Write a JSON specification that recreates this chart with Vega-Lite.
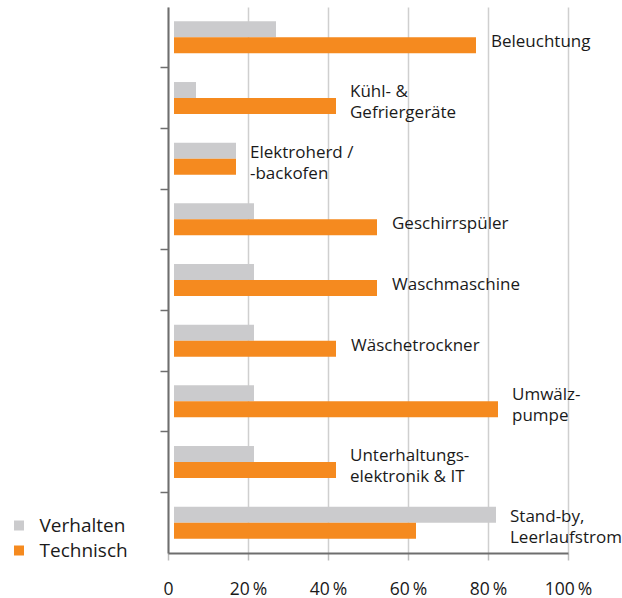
{
  "$schema": "https://vega.github.io/schema/vega-lite/v6.json",
  "width": 400,
  "height": 546,
  "autosize": "none",
  "padding": {"left": 168, "top": 7, "right": 54, "bottom": 45},
  "background": "white",
  "config": {"font": "Open Sans", "view": {"stroke": null}},
  "data": {
    "values": [
      {"cat": "Beleuchtung", "label": "Beleuchtung", "series": "Verhalten", "value": 27},
      {"cat": "Beleuchtung", "label": "Beleuchtung", "series": "Technisch", "value": 77},
      {"cat": "Kühl- & Gefriergeräte", "label": "Kühl- &\nGefriergeräte", "series": "Verhalten", "value": 7},
      {"cat": "Kühl- & Gefriergeräte", "label": "Kühl- &\nGefriergeräte", "series": "Technisch", "value": 42},
      {"cat": "Elektroherd/-backofen", "label": "Elektroherd /\n-backofen", "series": "Verhalten", "value": 17},
      {"cat": "Elektroherd/-backofen", "label": "Elektroherd /\n-backofen", "series": "Technisch", "value": 17},
      {"cat": "Geschirrspüler", "label": "Geschirrspüler", "series": "Verhalten", "value": 21.5},
      {"cat": "Geschirrspüler", "label": "Geschirrspüler", "series": "Technisch", "value": 52.25},
      {"cat": "Waschmaschine", "label": "Waschmaschine", "series": "Verhalten", "value": 21.5},
      {"cat": "Waschmaschine", "label": "Waschmaschine", "series": "Technisch", "value": 52.25},
      {"cat": "Wäschetrockner", "label": "Wäschetrockner", "series": "Verhalten", "value": 21.5},
      {"cat": "Wäschetrockner", "label": "Wäschetrockner", "series": "Technisch", "value": 42},
      {"cat": "Umwälzpumpe", "label": "Umwälz-\npumpe", "series": "Verhalten", "value": 21.5},
      {"cat": "Umwälzpumpe", "label": "Umwälz-\npumpe", "series": "Technisch", "value": 82.5},
      {"cat": "Unterhaltungselektronik & IT", "label": "Unterhaltungs-\nelektronik & IT", "series": "Verhalten", "value": 21.5},
      {"cat": "Unterhaltungselektronik & IT", "label": "Unterhaltungs-\nelektronik & IT", "series": "Technisch", "value": 42},
      {"cat": "Stand-by, Leerlaufstrom", "label": "Stand-by,\nLeerlaufstrom", "series": "Verhalten", "value": 82},
      {"cat": "Stand-by, Leerlaufstrom", "label": "Stand-by,\nLeerlaufstrom", "series": "Technisch", "value": 62}
    ]
  },
  "layer": [
    {
      "mark": {"type": "bar", "cornerRadius": 0},
      "encoding": {
        "y": {
          "field": "cat", "type": "nominal", "sort": null,
          "scale": {"paddingInner": 0, "paddingOuter": 0},
          "axis": {
            "title": null, "labels": false, "bandPosition": 0,
            "values": ["Kühl- & Gefriergeräte", "Elektroherd/-backofen", "Geschirrspüler", "Waschmaschine", "Wäschetrockner", "Umwälzpumpe", "Unterhaltungselektronik & IT", "Stand-by, Leerlaufstrom"],
            "domainColor": "#6e6e6e", "domainWidth": 2,
            "tickColor": "#6e6e6e", "tickWidth": 1.5, "tickSize": 8, "grid": false
          }
        },
        "yOffset": {
          "field": "series", "type": "nominal", "sort": ["Verhalten", "Technisch"],
          "scale": {"paddingInner": 0, "paddingOuter": 0.9}
        },
        "x": {
          "field": "value", "type": "quantitative",
          "scale": {"domain": [0, 100], "nice": false},
          "axis": {
            "title": null, "values": [0, 20, 40, 60, 80, 100],
            "labelExpr": "datum.value === 0 ? '0' : datum.value + '\u2009%'",
            "labelFontSize": 17.5, "labelColor": "#1a1a1a", "labelPadding": 20,
            "labelFont": "Open Sans", "labelFlush": false, "labelOverlap": false,
            "domainColor": "#6e6e6e", "domainWidth": 2,
            "tickColor": "#bdbdbd", "tickWidth": 1.5, "tickSize": 7,
            "grid": true, "gridColor": "#cfcfcf", "gridWidth": 1.5
          }
        },
        "x2": {"datum": 1.5},
        "color": {
          "field": "series", "type": "nominal",
          "scale": {"domain": ["Verhalten", "Technisch"], "range": ["#cbcbcd", "#f58a1f"]},
          "legend": {
            "title": null, "orient": "none", "legendX": -158.5, "legendY": 509, "padding": 0,
            "symbolType": "square", "symbolSize": 100, "symbolStrokeWidth": 0,
            "labelFontSize": 19, "labelColor": "#1a1a1a", "labelFont": "Open Sans",
            "labelOffset": 11, "rowPadding": 5,
            "encode": {"symbols": {"update": {"fill": [{"test": "datum.value === 'Verhalten'", "value": "#98989c"}, {"value": "#f58a1f"}], "opacity": {"value": 1}}}}
          }
        }
      }
    },
    {
      "transform": [{"filter": "indexof(datum.label, '\\n') < 0"}],
      "mark": {"type": "text", "align": "left", "baseline": "middle", "dx": 15, "dy": 5, "fontSize": 17, "color": "#1a1a1a", "font": "Open Sans"},
      "encoding": {
        "y": {"field": "cat", "type": "nominal", "sort": null},
        "x": {"aggregate": "max", "field": "value", "type": "quantitative"},
        "text": {"field": "label", "type": "nominal"}
      }
    },
    {
      "transform": [{"filter": "indexof(datum.label, '\\n') >= 0"}],
      "mark": {"type": "text", "align": "left", "baseline": "middle", "dx": 14, "dy": -6, "fontSize": 17, "lineBreak": "\n", "lineHeight": 21, "color": "#1a1a1a", "font": "Open Sans"},
      "encoding": {
        "y": {"field": "cat", "type": "nominal", "sort": null},
        "x": {"aggregate": "max", "field": "value", "type": "quantitative"},
        "text": {"field": "label", "type": "nominal"}
      }
    }
  ]
}
